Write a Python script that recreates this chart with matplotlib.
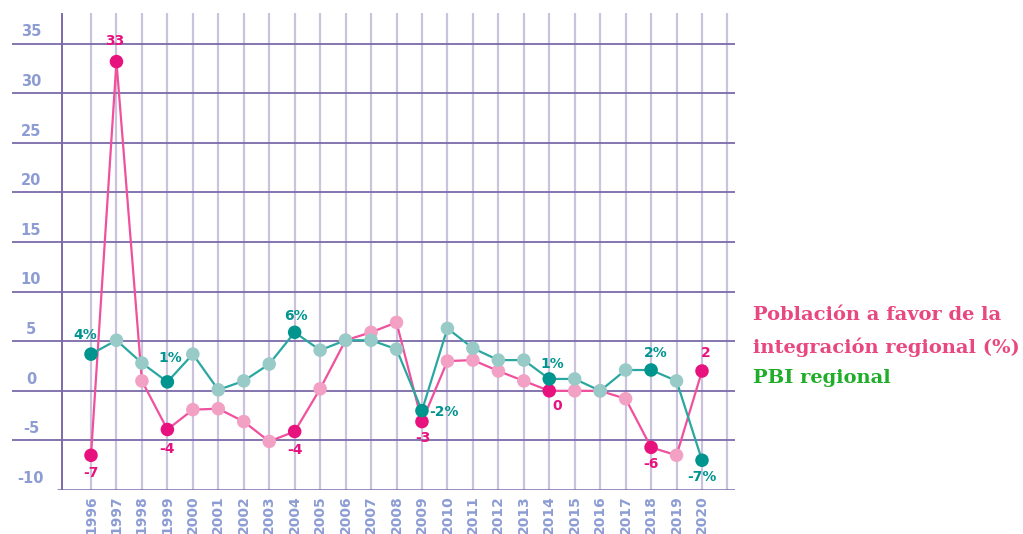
import matplotlib
matplotlib.use("Agg")
import matplotlib.pyplot as plt

years = list(range(1996, 2021))
poblacion = [-6.5, 33.2, 1.0, -3.9, -1.9, -1.8, -3.1, -5.1, -4.1, 0.2, 5.1, 5.9, 6.9,
             -3.1, 3.0, 3.1, 2.0, 1.0, 0.0, 0.0, 0.0, -0.8, -5.7, -6.5, 2.0]
pbi = [3.7, 5.1, 2.8, 0.9, 3.7, 0.1, 1.0, 2.7, 5.9, 4.1, 5.1, 5.1, 4.2,
       -2.0, 6.3, 4.3, 3.1, 3.1, 1.2, 1.2, 0.0, 2.1, 2.1, 1.0, -7.0]
y_ticks = [-10, -5, 0, 5, 10, 15, 20, 25, 30, 35]
y_tick_labels = ["-10", "-5", "0", "5", "10", "15", "20", "25", "30", "35"]

# highlighted points and their labels
pob_labels = {1996: "-7", 1997: "33", 1999: "-4", 2004: "-4", 2009: "-3",
              2014: "0", 2018: "-6", 2020: "2"}
pbi_labels = {1996: "4%", 1999: "1%", 2004: "6%", 2009: "-2%", 2014: "1%",
              2018: "2%", 2020: "-7%"}

legend_lines = ["Población a favor de la", "integración regional (%)", "PBI regional"]

PINK_LINE = "#f0509c"
PINK_DARK = "#e8127f"
PINK_LIGHT = "#f2a0c4"
TEAL_LINE = "#2aa7a0"
TEAL_DARK = "#00948e"
TEAL_LIGHT = "#98cbc7"
HGRID = "#7b6aaa"
VGRID = "#cbc2de"
TICK = "#8d9dd4"

W, H = 1023, 534
fig = plt.figure(figsize=(W / 100, H / 100), dpi=100)
left_px, right_px, top_px, bot_px = 12, 735, 13, 490
ax = fig.add_axes([left_px / W, 1 - bot_px / H, (right_px - left_px) / W, (bot_px - top_px) / H])

px_per_year = (702 - 91) / 24
x0 = 1996 - (91 - left_px) / px_per_year
x1 = 2020 + (right_px - 702) / px_per_year
ax.set_xlim(x0, x1)
ax.set_ylim(-10, 38.1)
for s in ax.spines.values():
    s.set_visible(False)

spine_x = 1996 - (91 - 62) / px_per_year
bottom_start = 1996 - (91 - 57) / px_per_year

# gridlines
ax.vlines(list(range(1996, 2022)), -10, 38.1, color=VGRID, lw=1.6, zorder=1)
ax.vlines([spine_x], -10, 38.1, color=HGRID, lw=1.4, zorder=1.5)
ax.hlines([t for t in y_ticks if t > -10], x0, x1, color=HGRID, lw=1.3, zorder=1.5)
ax.hlines([-10], bottom_start, x1, color=HGRID, lw=1.8, zorder=1.5)

# y labels
label_x = 1996 - (91 - 31) / px_per_year
for t, lab in zip(y_ticks, y_tick_labels):
    ax.annotate(lab, (label_x, t), xytext=(0, 8.5), textcoords="offset points",
                ha="center", va="center", color=TICK, fontsize=10.5, fontweight="bold")

ax.set_yticks([])
ax.set_xticks(years)
ax.set_xticklabels([str(y) for y in years], rotation=90, color=TICK,
                   fontsize=10, fontweight="bold", va="top")
ax.tick_params(axis="x", length=0, pad=4)

# lines
ax.plot(years, poblacion, color=PINK_LINE, lw=1.6, zorder=3)
ax.plot(years, pbi, color=TEAL_LINE, lw=1.6, zorder=5)

pc = [PINK_DARK if y in pob_labels else PINK_LIGHT for y in years]
tc = [TEAL_DARK if y in pbi_labels else TEAL_LIGHT for y in years]
ax.scatter(years, poblacion, s=95, c=pc, zorder=4, linewidths=0)
ax.scatter(years, pbi, s=95, c=tc, zorder=6, linewidths=0)

# labels
pob_offsets = {1996: (0, -13), 1997: (-1, 15), 1999: (0, -14), 2004: (0, -13),
               2009: (1, -12), 2014: (6, -11), 2018: (0, -12), 2020: (3, 13)}
pbi_offsets = {1996: (-4, 14), 1999: (2, 17), 2004: (1, 12), 2009: (16, -1),
               2014: (2, 11), 2018: (3, 12), 2020: (0, -12)}
for y, v in zip(years, poblacion):
    if y in pob_labels:
        ax.annotate(pob_labels[y], (y, v), xytext=pob_offsets[y], textcoords="offset points",
                    ha="center", va="center", color=PINK_DARK, fontsize=10, fontweight="bold", zorder=7)
for y, v in zip(years, pbi):
    if y in pbi_labels:
        ax.annotate(pbi_labels[y], (y, v), xytext=pbi_offsets[y], textcoords="offset points",
                    ha="center", va="center", color=TEAL_DARK, fontsize=10, fontweight="bold", zorder=7)

# legend texts
leg_colors = ["#e8477f", "#e8477f", "#20ad2a"]
leg_y = [315, 347, 378]
for txt, c, yy in zip(legend_lines, leg_colors, leg_y):
    fig.text(753 / W, 1 - yy / H, txt, color=c, fontsize=14, fontweight="bold",
             family="DejaVu Serif", ha="left", va="center")

fig.savefig("out.png", dpi=100)
